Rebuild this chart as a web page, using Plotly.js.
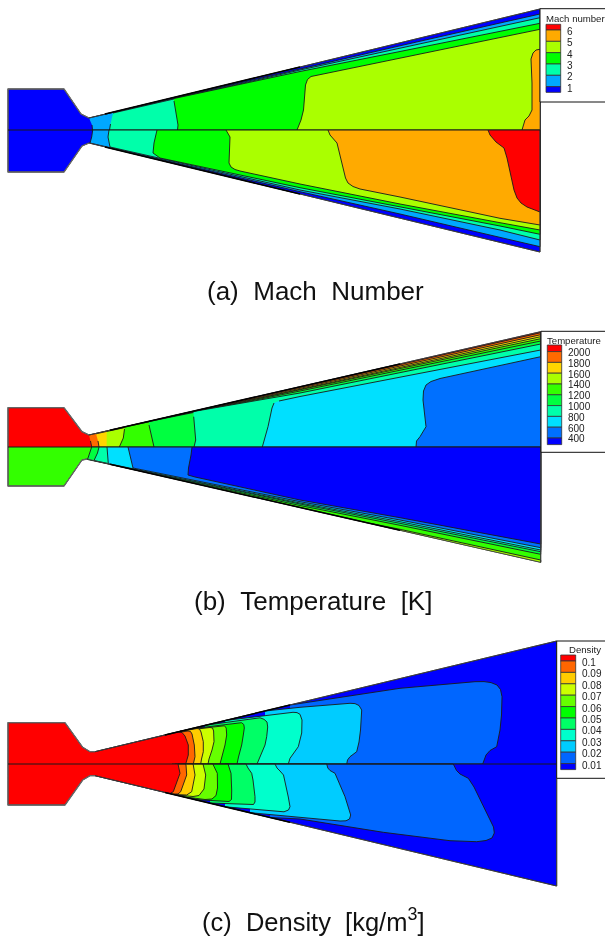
<!DOCTYPE html>
<html><head><meta charset="utf-8">
<script src="https://cdn.plot.ly/plotly-3.0.1.min.js"></script>
<style>html,body{margin:0;padding:0;background:#fff}#c{width:605px;height:938px;filter:blur(0.35px)}</style>
</head><body><div id="c"></div>
<script>
// ---------- colour levels ----------
const machColors=['#0000ff','#00a8ff','#00ffaa','#00ff00','#aaff00','#ffaa00','#ff0000'];
const tempColors=['#0000ff','#0070ff','#00e0ff','#00ffaa','#00ff40','#33ff00','#aaff00','#ffd500','#ff6a00','#ff0000'];
const densColors=['#0000ff','#0066ff','#00ccff','#00ffcc','#00ff66','#00ff00','#66ff00','#ccff00','#ffcc00','#ff6600','#ff0000'];
// ---------- legend labels ----------
const machLabels=['6','5','4','3','2','1'];
const tempLabels=['2000','1800','1600','1400','1200','1000','800','600','400'];
const densLabels=['0.1','0.09','0.08','0.07','0.06','0.05','0.04','0.03','0.02','0.01'];
// ---------- (a) Mach, upper half ----------
const machUp0=[[8,130],[8,89],[64,89],[81,114],[89,118],[540,9],[540,130]];
const machUp1=[[89,118],[300,68.5],[400,45.8],[500,23],[540,14],[540,130],[92.5,130],[92,125]];
const machUp2=[[113,113],[300,70],[400,48.2],[500,26.5],[540,17.7],[540,130],[109.5,130],[110.5,124]];
const machUp3=[[174,98.5],[300,71.5],[400,51.5],[500,31],[540,23.3],[540,130],[177.5,130],[178,125],[176,112],[174,101]];
const machUp4=[[540,29.3],[500,37.5],[400,57.8],[316,75.2],[311,76.5],[307.5,79.5],[305.5,85],[303.5,110],[301,120],[297,130],[540,130]];
const machUp5=[[540,49.3],[536,50],[533,53],[531,59],[532,83],[532,110],[529,116],[525,120],[522,130],[540,130]];
// ---------- (a) Mach, lower half ----------
const machLo0=[[8,130],[8,172],[64,172],[82,146],[89,143],[540,252],[540,130]];
const machLo1=[[92.7,130],[91.7,137],[90,143],[300,191.7],[400,214],[500,237],[540,246.7],[540,130]];
const machLo2=[[109,130],[108,137],[110,147],[300,190],[400,209],[500,230],[540,240],[540,130]];
const machLo3=[[157,130],[154,143],[153,153],[160,158],[300,187.7],[400,206.7],[500,226],[540,234.3],[540,130]];
const machLo4=[[226,130],[230,137],[229,163],[231,167],[235,169.5],[240,171],[300,184],[400,204],[500,222.7],[540,230],[540,130]];
const machLo5=[[328,130],[330,135],[337,143],[343,170],[345.5,178],[348,183],[353,186.5],[360,189],[400,197],[500,218.3],[540,225],[540,130]];
const machLo6=[[488,130],[490,135],[496,142],[504,148],[507,158],[510,173],[514,190],[517,198],[521,203],[527,207],[540,212],[540,130]];
// ---------- (b) Temperature, upper half ----------
const tempUp0=[[8,447],[8,407.7],[64,407.7],[82,431.7],[89,435],[540.7,331.7],[540.7,447]];
const tempUp1=[[89,435],[300,387.5],[540.7,332.7],[540.7,447],[91.7,447],[90.5,441]];
const tempUp2=[[96,433.8],[300,388.2],[540.7,334.7],[540.7,447],[99,447],[98,441]];
const tempUp3=[[106.7,431.5],[300,389],[540.7,336.7],[540.7,447],[106.7,447]];
const tempUp4=[[124.5,427],[300,390],[540.7,338.7],[540.7,447],[119.3,447],[123.3,438],[124.5,429]];
const tempUp5=[[149,421.5],[300,391],[540.7,341],[540.7,447],[154,447],[151,435],[149,425]];
const tempUp6=[[193.5,411.5],[300,393],[540.7,344],[540.7,447],[194,447],[195.7,440],[193.7,416.7]];
const tempUp7=[[279,401],[300,396.5],[540.7,350],[540.7,447],[262.3,447],[268,426.7],[272,408],[274,403]];
const tempUp8=[[540.7,356.7],[470,371.5],[440,378.5],[431,381.5],[426,385],[423.5,391],[423,400],[426,426.7],[423,432],[420,436.7],[416.5,441],[416,447],[540.7,447]];
// ---------- (b) Temperature, lower half ----------
const tempLo0=[[8,447],[8,486],[64,486],[82,460],[87,459],[540.7,562.3],[540.7,447]];
const tempLo1=[[91.7,447],[90,453],[87.5,459.5],[300,505.5],[400,525.3],[540.7,554.3],[540.7,447]];
const tempLo2=[[99,447],[97.5,453],[94,460.5],[300,504],[400,523.3],[540.7,551.7],[540.7,447]];
const tempLo3=[[107,447],[107.3,455],[108.3,463.7],[300,503],[400,521.7],[540.7,550],[540.7,447]];
const tempLo4=[[128,447],[130,456],[133,468],[300,501.7],[400,520],[540.7,547.7],[540.7,447]];
const tempLo5=[[192,447],[191,455],[188.5,468],[188,475],[195,477],[300,500],[400,517.7],[540.7,544],[540.7,447]];
const tempLoWall=[[370,523.3],[400,529.3],[540.7,560],[540.7,562.3]];
// ---------- (c) Density, upper half ----------
const densUp0=[[95,764],[95,751.7],[556.7,641],[556.7,764]];
const densUp1=[[290,705],[400,688.3],[475,681.7],[484,681.6],[491,682.6],[497,685],[500.5,689.5],[502,696.7],[501.5,715],[500,730],[496.7,746.7],[490,750.5],[486,755],[482.7,764],[290,764]];
const densUp2=[[265,711],[300,707.3],[350,703.3],[355,703.6],[359,705.5],[361.7,710],[360.5,730],[359,742],[356.7,751.7],[350,756.7],[347.5,760],[346.7,764],[265,764]];
const densUp3=[[225,720.5],[293,712.3],[297,712.6],[300,714.3],[302,720],[301.7,733],[298.3,746.7],[294,753],[290,758.3],[288.3,764],[225,764]];
const densUp4=[[205,725.3],[255,718],[260,717.8],[264,719.3],[267,722],[267.7,727],[266.7,736.7],[265,745],[261,755],[257,763],[257,764],[205,764]];
const densUp5=[[190,728.9],[238,722.5],[241.5,722.7],[243.8,724.5],[244.3,728],[243.3,735],[241.7,745],[238.5,757],[237,764],[190,764]];
const densUp6=[[185,730],[221.7,725.5],[224.5,725.8],[226.2,728],[226.7,735],[225,745],[222,757],[220,764],[185,764]];
const densUp7=[[180,731],[210,727.5],[212.5,728],[213.6,731],[214,741.7],[212,750],[209,759],[208,764],[180,764]];
const densUp8=[[178,732],[197,728.5],[199.5,729],[201,732],[203.3,741.7],[203.3,751.7],[201.5,759],[200.7,764],[178,764]];
const densUp9=[[175,733],[188,731],[190.5,731.5],[192,734],[194.3,745],[195,756.7],[193.3,764],[175,764]];
const densUp10=[[8,764],[8,722.7],[65,722.7],[82.7,747.3],[90,751.7],[95,751.7],[178,732],[182,732.5],[185,736],[188.3,745],[188.3,755],[185.7,764]];
// ---------- (c) Density, lower half ----------
const densLo0=[[95,764],[95,775.7],[556.7,886],[556.7,764]];
const densLo1=[[270,817.5],[300,819],[383.3,832.3],[450,840.7],[476.7,841.7],[486,840.5],[492,838],[494.3,833],[493.5,827],[480,800],[474,787],[468.3,778.3],[460,774],[456.5,770.5],[453.3,764],[270,764]];
const densLo2=[[250,812.7],[300,817.7],[340,821],[346,820.8],[349.5,819],[350.7,815],[345,796.7],[335,773.3],[330,770.5],[327.8,768],[326.7,764],[250,764]];
const densLo3=[[225,806.8],[276.7,811.7],[284,811.8],[288.5,810],[290,806.7],[288.3,797],[283.5,775],[280,771],[277,768],[275,764],[225,764]];
const densLo4=[[210,803],[250,805],[253.5,804.5],[255,802],[255,796.7],[253,780],[251.7,773.3],[248,768],[246,765],[246,764],[210,764]];
const densLo5=[[195,799.6],[225,801.5],[229,801.5],[231.5,799.5],[231.7,790],[231,773.3],[228.3,765],[228,764],[195,764]];
const densLo6=[[183,796.7],[205,799.5],[212,799],[216,795.5],[217.5,788],[217.3,773.3],[213.3,765],[213,764],[183,764]];
const densLo7=[[178,795],[193,796.5],[199,795.5],[204,789],[205.7,775],[203.3,765],[203,764],[178,764]];
const densLo8=[[175,794.5],[186.7,795],[191.7,791.7],[195,775],[193.3,765],[193,764],[175,764]];
const densLo9=[[172,794],[178,794],[180.7,791.7],[186.7,775],[186,765],[185.5,764],[172,764]];
const densLo10=[[8,764],[8,805],[65,805],[82.7,780],[90,775.7],[95,775.7],[170,793.6],[173.3,791.7],[180,773.3],[178.3,765],[178,764]];
// ---------- walls, chambers and centre lines ----------
const machChamber=[[89,118],[81,114],[64,89],[8,89],[8,172],[64,172],[82,146],[89,143]];
const machNozzle=[[89,118],[540,9],[540,252],[89,143]];
const machAxis=[[8,130],[540,130]];
const machDarkUp=[[105,114],[300,67]];
const machDarkLo=[[105,147],[300,194]];
const tempChamber=[[89,435],[82,431.7],[64,407.7],[8,407.7],[8,486],[64,486],[82,460],[87,459]];
const tempNozzle=[[89,435],[540.7,331.7],[540.7,562.3],[87,459]];
const tempAxis=[[8,447],[540.7,447]];
const tempDarkUp=[[110,430.2],[400,363.9]];
const tempDarkLo=[[110,464.2],[400,530.3]];
const densChamber=[[95,751.7],[90,751.7],[82.7,747.3],[65,722.7],[8,722.7],[8,805],[65,805],[82.7,780],[90,775.7],[95,775.7]];
const densNozzle=[[95,751.7],[556.7,641],[556.7,886],[95,775.7]];
const densAxis=[[8,764],[556.7,764]];
const densDarkUp=[[165,734.9],[290,705]];
const densDarkLo=[[165,792.4],[290,822.3]];

const traces=[];
function region(pts,color){
  traces.push({type:'scatter',mode:'lines',x:pts.map(p=>p[0]),y:pts.map(p=>p[1]),fill:'toself',fillcolor:color,
    line:{color:'#1a1a1a',width:0.9},hoverinfo:'skip',showlegend:false});
}
function stroke(pts,color,width){
  traces.push({type:'scatter',mode:'lines',x:pts.map(p=>p[0]),y:pts.map(p=>p[1]),
    line:{color,width},hoverinfo:'skip',showlegend:false});
}
[[machUp0,0],[machUp1,1],[machUp2,2],[machUp3,3],[machUp4,4],[machUp5,5],
 [machLo0,0],[machLo1,1],[machLo2,2],[machLo3,3],[machLo4,4],[machLo5,5],[machLo6,6]].forEach(r=>region(r[0],machColors[r[1]]));
[[tempUp0,9],[tempUp1,8],[tempUp2,7],[tempUp3,6],[tempUp4,5],[tempUp5,4],[tempUp6,3],[tempUp7,2],[tempUp8,1],
 [tempLo0,5],[tempLo1,4],[tempLo2,3],[tempLo3,2],[tempLo4,1],[tempLo5,0],[tempLoWall,6]].forEach(r=>region(r[0],tempColors[r[1]]));
[[densUp0,0],[densUp1,1],[densUp2,2],[densUp3,3],[densUp4,4],[densUp5,5],[densUp6,6],[densUp7,7],[densUp8,8],[densUp9,9],[densUp10,10],
 [densLo0,0],[densLo1,1],[densLo2,2],[densLo3,3],[densLo4,4],[densLo5,5],[densLo6,6],[densLo7,7],[densLo8,8],[densLo9,9],[densLo10,10]].forEach(r=>region(r[0],densColors[r[1]]));
[[machChamber,machNozzle,machAxis,machDarkUp,machDarkLo],[tempChamber,tempNozzle,tempAxis,tempDarkUp,tempDarkLo],[densChamber,densNozzle,densAxis,densDarkUp,densDarkLo]].forEach(p=>{
  stroke(p[0],'#666',1.3);
  stroke(p[1],'#444',0.8);
  stroke(p[2],'#181818',1.2);
  stroke(p[3],'#000',1.5);
  stroke(p[4],'#000',1.5);
});

const shapes=[],annotations=[];
function txt(x,y,s,size,anchor,color){
  annotations.push({x,y,xref:'x',yref:'y',text:s,showarrow:false,xanchor:anchor||'left',yanchor:'middle',
    font:{size,color:color||'#222',family:'"Liberation Sans",Arial,sans-serif'}});
}
function legend(o){
  shapes.push({type:'rect',xref:'x',yref:'y',x0:o.left,x1:607,y0:o.top,y1:o.bottom,fillcolor:'#fff',line:{color:'#111',width:1},layer:'above'});
  txt(o.titleX,o.titleY,o.title,9.6);
  const cols=o.colors.slice().reverse();
  let y=o.sw0;
  cols.forEach((c,i)=>{
    const h=(i===0||i===cols.length-1)?o.endH:o.step;
    shapes.push({type:'rect',xref:'x',yref:'y',x0:o.sx0,x1:o.sx1,y0:y,y1:y+h,fillcolor:c,line:{color:'#333',width:0.8},layer:'above'});
    y+=h;
  });
  o.labels.forEach((l,i)=>txt(o.lx,o.ly0+i*o.step,l,10));
}
legend({left:540,top:8.7,bottom:102,title:'Mach number',titleX:544,titleY:18.5,colors:machColors,labels:machLabels,
  sx0:546,sx1:560.7,sw0:24.3,step:11.33,endH:5.7,lx:564.5,ly0:31.5});
legend({left:541,top:331.3,bottom:452.3,title:'Temperature',titleX:544.5,titleY:340,colors:tempColors,labels:tempLabels,
  sx0:547.3,sx1:561.7,sw0:345,step:10.8,endH:6.6,lx:565.5,ly0:352.5});
legend({left:556.7,top:641,bottom:778.3,title:'Density',titleX:567,titleY:649,colors:densColors,labels:densLabels,
  sx0:560.7,sx1:575.7,sw0:655,step:11.4,endH:6,lx:580,ly0:662.5});

txt(315,291,'(a)\u00a0\u00a0Mach\u00a0\u00a0Number',26,'center','#111');
txt(312.8,601,'(b)\u00a0\u00a0Temperature\u00a0\u00a0[K]',26,'center','#111');
txt(313,920,'(c)\u00a0\u00a0Density\u00a0\u00a0[kg/m<sup>3</sup>]',25.5,'center','#111');

Plotly.newPlot('c',traces,{
  width:605,height:938,margin:{l:0,r:0,t:0,b:0},paper_bgcolor:'#fff',plot_bgcolor:'#fff',showlegend:false,
  xaxis:{range:[0,605],visible:false,fixedrange:true},
  yaxis:{range:[938,0],visible:false,fixedrange:true},
  shapes,annotations
},{displayModeBar:false,staticPlot:true});
</script></body></html>
